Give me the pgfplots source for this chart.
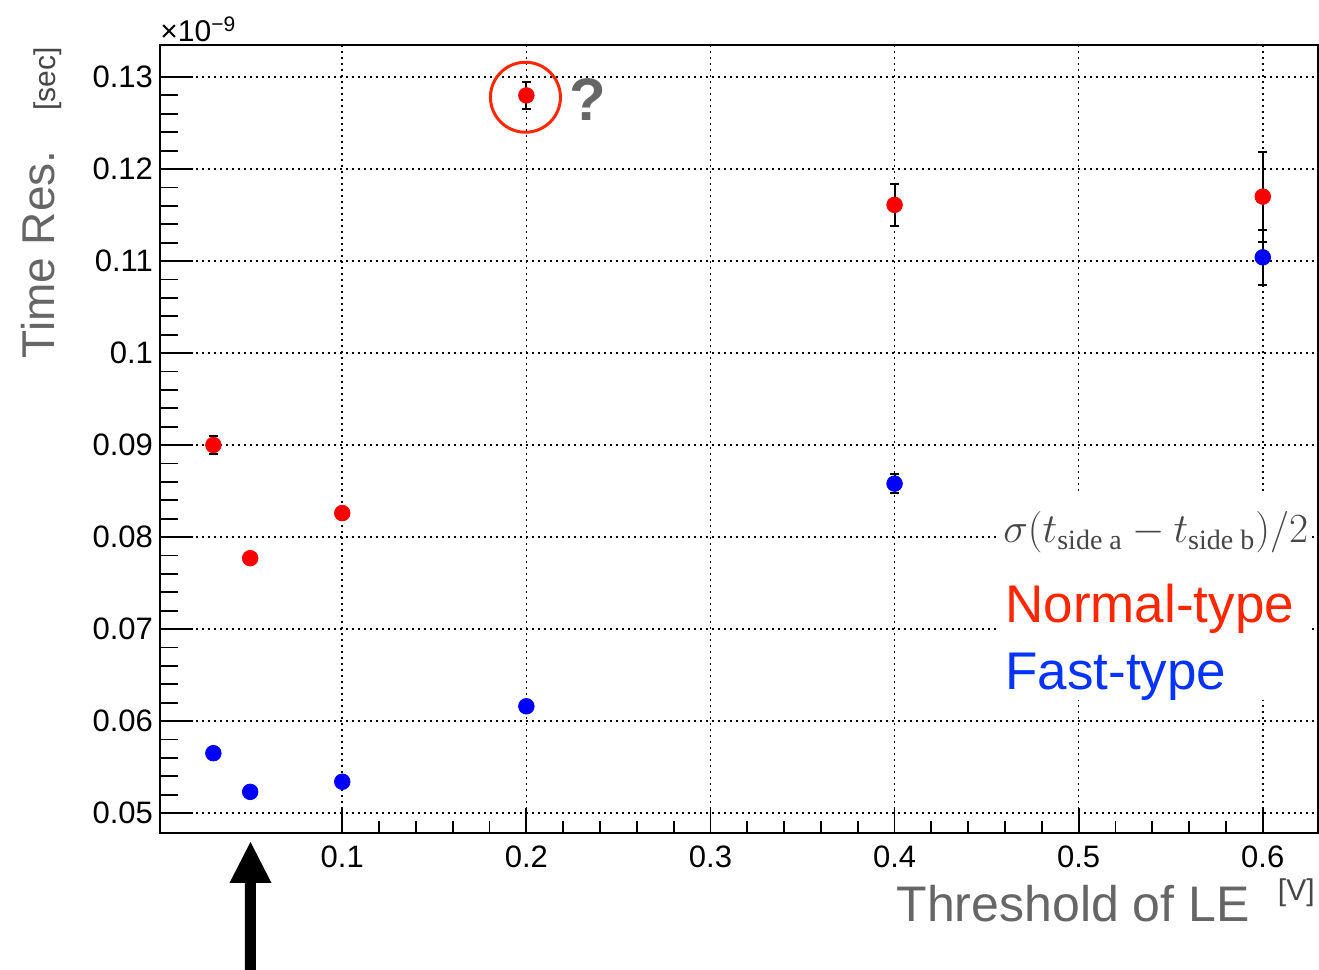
\documentclass[border=0pt]{standalone}
\usepackage{fontspec}
\setmainfont{Liberation Sans}
\newfontfamily\seriffont{Liberation Serif}
\usepackage{amsmath}
\usepackage{pgfplots}
\pgfplotsset{compat=1.18}
\usetikzlibrary{calc}
\definecolor{ptred}{RGB}{255,0,0}
\definecolor{ptblue}{RGB}{0,0,255}
\definecolor{txtred}{RGB}{255,38,0}
\definecolor{txtblue}{RGB}{4,51,255}
\definecolor{labgray}{RGB}{102,102,102}
\definecolor{formgray}{RGB}{70,70,70}

% threshold [V], time resolution [x1e-9 s], error
\pgfplotstableread{
x    y       e
0.03 0.0900  0.0010
0.05 0.0777  0.0003
0.10 0.0826  0.0003
0.20 0.1280  0.0015
0.40 0.1161  0.0023
0.60 0.1170  0.0049
}\normaltype
\pgfplotstableread{
x    y       e
0.03 0.0565  0.0003
0.05 0.0523  0.0003
0.10 0.0534  0.0003
0.20 0.0616  0.0003
0.40 0.0858  0.0010
0.60 0.1104  0.0030
}\fasttype

\begin{document}
\begin{tikzpicture}
\begin{axis}[
    name=ax, scale only axis, width=579pt, height=394pt,
    xmin=0.001, xmax=0.63, ymin=0.04783, ymax=0.13348,
    xtick={0.1,0.2,0.3,0.4,0.5,0.6},
    ytick={0.05,0.06,0.07,0.08,0.09,0.1,0.11,0.12,0.13},
    minor x tick num=4, minor y tick num=4,
    tick pos=left, tick align=inside,
    major tick length=16.5pt, minor tick length=9pt,
    xtick style={/pgfplots/major tick length=12.5pt, /pgfplots/minor tick length=6pt},
    every tick/.style={black, line width=0.9pt},
    grid=major,
    major grid style={black, line width=0.8pt, dash pattern=on 0.8pt off 2.2pt},
    axis line style={line width=1pt},
    scaled y ticks=false, scaled x ticks=false,
    ticklabel style={font=\fontsize{15.5}{16}\selectfont, /pgf/number format/fixed, /pgf/number format/precision=2},
    /pgf/number format/assume math mode=true,
    xticklabel style={yshift=-3pt},
    clip=false,
]
\addplot[only marks, mark=*, mark size=3.9pt, color=ptred,
    error bars/.cd, y dir=both, y explicit,
    error bar style={black, line width=1pt},
    error mark options={rotate=90, black, line width=1pt, mark size=2.3pt}]
    table[x=x, y=y, y error=e] {\normaltype};
\addplot[only marks, mark=*, mark size=3.9pt, color=ptblue,
    error bars/.cd, y dir=both, y explicit,
    error bar style={black, line width=1pt},
    error mark options={rotate=90, black, line width=1pt, mark size=2.3pt}]
    table[x=x, y=y, y error=e] {\fasttype};
\draw[txtred, line width=1.5pt] (axis cs:0.1995,0.1278) circle[radius=17.5pt];
\end{axis}

% legend box covering the grid
\fill[white] ($(ax.south west)+(420pt,66.5pt)$) rectangle ($(ax.south west)+(575pt,169pt)$);
\node[anchor=base west, inner sep=0, text=formgray, font=\fontsize{20}{20}\selectfont]
    at ($(ax.south west)+(421.5pt,145pt)$) {$\sigma(t_{\text{\seriffont side a}}-t_{\text{\seriffont side b}})/2$};
\node[anchor=base west, inner sep=0, text=txtred, font=\fontsize{26.5}{26.5}\selectfont]
    at ($(ax.south west)+(422.5pt,105pt)$) {Normal-type};
\node[anchor=base west, inner sep=0, text=txtblue, font=\fontsize{26.5}{26.5}\selectfont]
    at ($(ax.south west)+(422.5pt,71.5pt)$) {Fast-type};

% question mark
\node[inner sep=0, text=labgray, font=\fontsize{30}{30}\selectfont\bfseries]
    at ($(ax.south west)+(214pt,366.5pt)$) {?};

% exponent
\node[anchor=base west, inner sep=0, font=\fontsize{15}{15}\selectfont]
    at ($(ax.north west)+(0,1.5pt)$) {×10\textsuperscript{−9}};

% axis titles
\node[anchor=base east, inner sep=0, rotate=90, text=labgray, font=\fontsize{23}{23}\selectfont]
    at ($(ax.south west)+(-52.5pt,341.5pt)$) {Time Res.};
\node[anchor=base east, inner sep=0, rotate=90, text=formgray, font=\fontsize{15}{15}\selectfont]
    at ($(ax.south west)+(-52pt,393pt)$) {[sec]};
\node[anchor=base east, inner sep=0, text=labgray, font=\fontsize{25}{25}\selectfont]
    at ($(ax.south west)+(545pt,-44.5pt)$) {Threshold of LE};
\node[anchor=base east, inner sep=0, text=formgray, font=\fontsize{15}{15}\selectfont]
    at ($(ax.south west)+(577.5pt,-34pt)$) {[V]};

% arrow pointing at 0.05 V
\fill[black] ($(ax.south west)+(45.25pt,-4.5pt)$) -- ++(10.5pt,-20.5pt) -- ++(-7.75pt,0)
    -- ++(0,-43.5pt) -- ++(-5.5pt,0) -- ++(0,43.5pt) -- ++(-7.75pt,0) -- cycle;

\pgfresetboundingbox
\path ($(ax.south west)+(-80pt,-68.5pt)$) rectangle ($(ax.north east)+(0.5pt,22.5pt)$);
\end{tikzpicture}
\end{document}
